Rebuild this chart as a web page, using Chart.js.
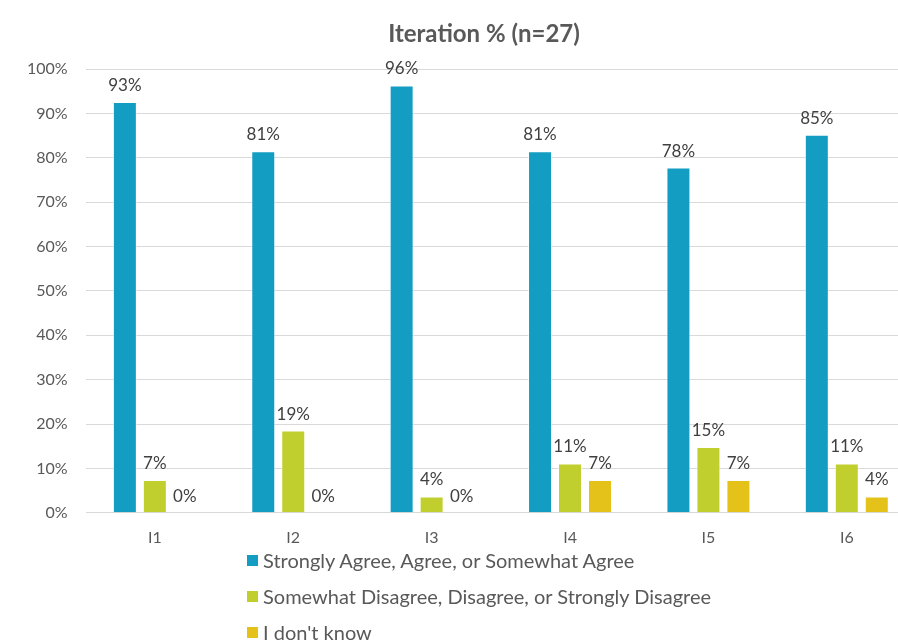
<!DOCTYPE html>
<html lang="en">
<head>
  <meta charset="UTF-8">
  <meta name="viewport" content="width=device-width, initial-scale=1.0">
  <script src="https://cdn.jsdelivr.net/npm/chart.js"></script>
  <title>Iteration %</title>
  <style>
    body {
        margin: 0;
        background: #ffffff;
        overflow: hidden;
        font-family: Lato, sans-serif;
    }
    .wrap {
        position: absolute;
        left: 0;
        top: 0;
        width: 966px;
        height: 564px;
    }
    .titulo {
        position: absolute;
        left: 0;
        top: 19px;
        width: 968px;
        text-align: center;
        color: #595959;
        font-size: 24px;
        font-weight: bold;
        line-height: 28px;
    }
    .legenda {
        position: absolute;
        left: 247px;
        top: 542px;
        color: #595959;
        font-size: 20px;
    }
    .legenda div {
        height: 36px;
        display: flex;
        align-items: center;
    }
    .legenda span.cx {
        display: inline-block;
        width: 11px;
        height: 11px;
        margin-right: 5px;
    }
  </style>
</head>
<body>

<div class="wrap">
  <canvas class="barChart"></canvas>
</div>
<div class="titulo">Iteration % (n=27)</div>
<div class="legenda"></div>

<script>
    const categorias = ['I1', 'I2', 'I3', 'I4', 'I5', 'I6'];
    const concordo = [92.59, 81.48, 96.30, 81.48, 77.78, 85.19];
    const discordo = [7.41, 18.52, 3.70, 11.11, 14.81, 11.11];
    const naoSei = [0, 0, 0, 7.41, 7.41, 3.70];
    const series = [
        'Strongly Agree, Agree, or Somewhat Agree',
        'Somewhat Disagree, Disagree, or Strongly Disagree',
        "I don't know"
    ];
    const cores = ['#139DC2', '#C1CF2E', '#E5C21A'];
    const ticksY = [0, 10, 20, 30, 40, 50, 60, 70, 80, 90, 100];

    // rotulo de valor acima de cada barra
    const rotulos = {
        id: 'rotulos',
        afterDatasetsDraw(chart) {
            const ctx = chart.ctx;
            ctx.save();
            ctx.font = '17px Lato';
            ctx.fillStyle = '#404040';
            ctx.textAlign = 'center';
            ctx.textBaseline = 'alphabetic';
            chart.data.datasets.forEach((ds, i) => {
                chart.getDatasetMeta(i).data.forEach((bar, j) => {
                    ctx.fillText(Math.round(ds.data[j]) + '%', bar.x, bar.y - 11);
                });
            });
            ctx.restore();
        }
    };

    const ctx = document.querySelector('.barChart').getContext('2d');
    const barChart = new Chart(ctx, {
        type: 'bar',
        data: {
            labels: categorias,
            datasets: [concordo, discordo, naoSei].map((valores, i) => ({
                label: series[i],
                data: valores,
                backgroundColor: cores[i],
                borderColor: 'rgba(255,255,255,0.6)',
                borderWidth: 1,
                categoryPercentage: 0.65,
                barPercentage: 0.8
            }))
        },
        options: {
            responsive: true,
            maintainAspectRatio: false,
            animation: false,
            layout: {
                padding: { left: 9, right: 50, top: 69, bottom: 2 }
            },
            plugins: {
                legend: { display: false },
                tooltip: { enabled: false },
                title: { display: false }
            },
            scales: {
                x: {
                    grid: { display: false, drawTicks: false },
                    border: { display: false },
                    ticks: {
                        color: '#595959',
                        font: { family: 'Lato', size: 16 },
                        padding: 15
                    }
                },
                y: {
                    min: 0,
                    max: 100,
                    afterBuildTicks: axis => {
                        axis.ticks = ticksY.map(v => ({ value: v }));
                    },
                    grid: { color: '#D9D9D9', lineWidth: 1, drawTicks: false },
                    border: { display: false },
                    ticks: {
                        color: '#595959',
                        font: { family: 'Lato', size: 16 },
                        padding: 18,
                        callback: v => v + '%'
                    }
                }
            }
        },
        plugins: [rotulos]
    });

    // legenda em lista vertical abaixo do grafico
    const legenda = document.querySelector('.legenda');
    series.forEach((nome, i) => {
        const linha = document.createElement('div');
        linha.innerHTML = '<span class="cx" style="background:' + cores[i] + '"></span>' + nome;
        legenda.appendChild(linha);
    });
</script>

</body>
</html>
